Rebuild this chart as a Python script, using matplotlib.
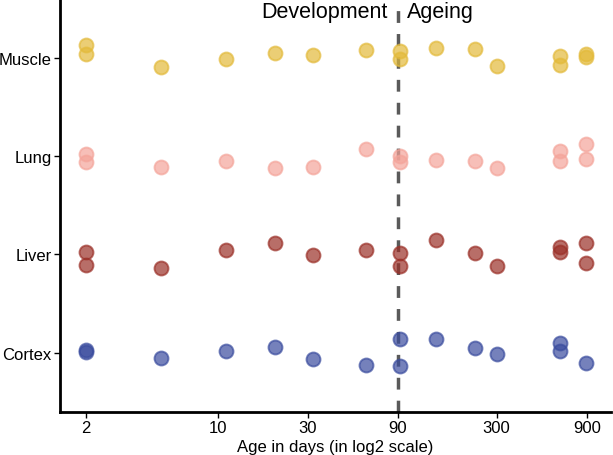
import matplotlib
matplotlib.use("Agg")
import matplotlib.pyplot as plt
import numpy as np

plt.rcParams['font.family'] = ['Liberation Sans', 'DejaVu Sans']

tissues = ["Cortex", "Liver", "Lung", "Muscle"]
colors = {"Cortex": "#3A4C9E", "Liver": "#9B3028", "Lung": "#F4A49A", "Muscle": "#E3BA3A"}

# ages (days) of each sample and vertical jitter offsets (category units)
ages_muscle = [2, 2, 5, 11, 20, 32, 61, 92, 92, 143, 230, 302, 646, 646, 894, 894]
jit_muscle = [0.13, 0.04, -0.09, -0.01, 0.05, 0.03, 0.08, 0.07, -0.01, 0.10, 0.09, -0.08, 0.02, -0.07, 0.04, 0.01]

ages_lung = [2, 2, 5, 11, 20, 32, 61, 92, 92, 143, 230, 302, 646, 646, 894, 894]
jit_lung = [0.02, -0.06, -0.11, -0.05, -0.12, -0.11, 0.07, 0.00, -0.06, -0.04, -0.05, -0.12, 0.05, -0.05, 0.12, -0.03]

ages_liver = [2, 2, 5, 11, 20, 32, 61, 92, 92, 143, 230, 302, 646, 646, 894, 894]
jit_liver = [0.03, -0.11, -0.14, 0.05, 0.12, -0.01, 0.05, 0.01, -0.12, 0.15, 0.02, -0.12, 0.08, 0.03, 0.12, -0.09]

ages_cortex = [2, 2, 5, 11, 20, 32, 61, 92, 92, 143, 230, 302, 646, 646, 894]
jit_cortex = [0.03, 0.01, -0.05, 0.02, 0.06, -0.06, -0.12, 0.14, -0.14, 0.14, 0.05, -0.01, 0.10, 0.02, -0.10]

data = {
    "Cortex": (ages_cortex, jit_cortex),
    "Liver": (ages_liver, jit_liver),
    "Lung": (ages_lung, jit_lung),
    "Muscle": (ages_muscle, jit_muscle),
}

xticks = [2, 10, 30, 90, 300, 900]
split_age = 90

fig = plt.figure(figsize=(6.13, 4.56), dpi=100)
ax = fig.add_axes([60 / 613, (456 - 412.7) / 456, (611 - 60) / 613, 412.7 / 456])

ax.axvline(split_age, color="#5a5a5a", lw=2.5, ls=(0, (3.4, 3.2)), zorder=1)

for i, t in enumerate(tissues, start=1):
    ages, jit = data[t]
    y = i + np.array(jit)
    ax.scatter(ages, y, s=100, color=colors[t], alpha=0.7, edgecolors=colors[t],
               linewidths=1.4, zorder=3)

ax.set_xscale("log", base=2)
ax.set_xlim(1.46, 1210)
ax.set_ylim(0.4, 4.6)
ax.set_xticks(xticks)
ax.set_xticklabels([str(v) for v in xticks])
ax.minorticks_off()
ax.set_yticks(range(1, len(tissues) + 1))
ax.set_yticklabels(tissues)

ax.tick_params(axis="both", labelsize=12, length=4, width=1, color="black", pad=2,
               labelcolor="black")
for s in ["top", "right"]:
    ax.spines[s].set_visible(False)
for s in ["left", "bottom"]:
    ax.spines[s].set_linewidth(2)
    ax.spines[s].set_color("black")

ax.set_xlabel("Age in days (in log2 scale)", fontsize=12, labelpad=3)

ax.annotate("Development", xy=(split_age, 1), xycoords=("data", "axes fraction"),
            xytext=(-7.5, -9), textcoords="offset points", ha="right", va="center",
            fontsize=15.5)
ax.annotate("Ageing", xy=(split_age, 1), xycoords=("data", "axes fraction"),
            xytext=(6.5, -9), textcoords="offset points", ha="left", va="center",
            fontsize=15.5)

fig.savefig("out.png", dpi=100)
